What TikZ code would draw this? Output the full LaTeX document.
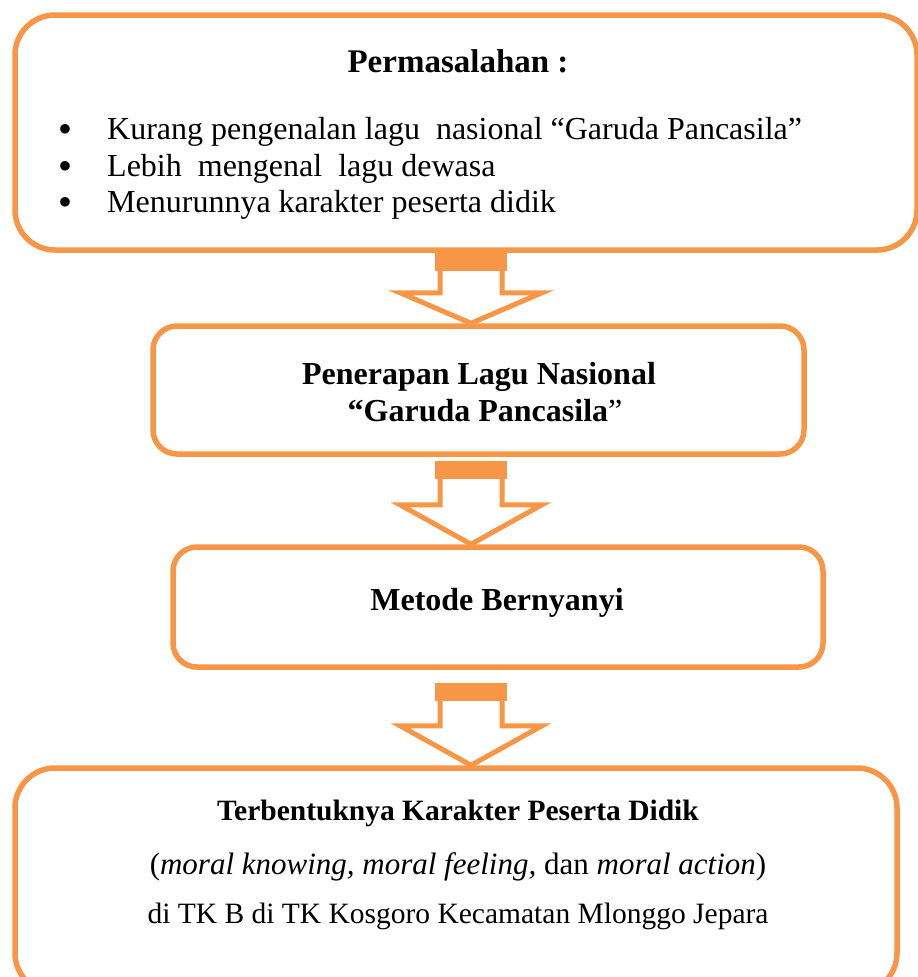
\documentclass[tikz,border=0pt]{standalone}
\usepackage{fontspec}
\setmainfont{Liberation Serif}
\usetikzlibrary{calc}
\definecolor{accent}{HTML}{F79646}

% block arrow between two boxes: from, to, gap below box, shaft length
\newcommand{\blockarrow}[4]{%
  \path (471,0 |- #1.south) ++(0,#3) coordinate (#1-top);
  \fill[accent] ($(#1-top)+(-36,0)$) rectangle ($(#1-top)+(36,18)$);
  \draw[arrowline] ($(#1-top)+(-31,18)$) -- ++(0,#4) -- ++(-40,0)
    -- (471,0 |- #2.north) -- ($(#1-top)+(71,18+#4)$) -- ++(-40,0) -- ++(0,-#4);
}

\begin{document}
\begin{tikzpicture}[x=1pt, y=-1pt,
  box/.style={draw=accent, line width=5.5pt, rounded corners=#1, inner sep=0pt},
  box/.default=40pt,
  arrowline/.style={draw=accent, line width=5pt, line join=miter},
  txt/.style={inner sep=0pt, font=\fontsize{32}{38}\selectfont},
  small/.style={inner sep=0pt, font=\fontsize{29.5}{35}\selectfont}]
\useasboundingbox (0,0) rectangle (918,977);

% Boxes
\node[box, minimum width=902pt, minimum height=235pt] (masalah) at (466,132.5) {};
\node[box=24pt, minimum width=651pt, minimum height=128pt] (penerapan) at (478.5,390) {};
\node[box=24pt, minimum width=650pt, minimum height=120pt] (metode) at (498,607) {};
\node[box, minimum width=882pt, minimum height=225pt] (karakter) at (456,880.5) {};

% Texts
\node[txt, anchor=base, font=\fontsize{33}{38}\selectfont] (judul) at (458,72) {\textbf{Permasalahan :}};
\node[txt, anchor=base west] (b1) at (107,139) {Kurang pengenalan lagu\ \ nasional “Garuda Pancasila”};
\node[txt, anchor=base west] (b2) at (107,176) {Lebih\ \ mengenal\ \ lagu dewasa};
\node[txt, anchor=base west] (b3) at (107,212) {Menurunnya karakter peserta didik};
\foreach \b in {b1,b2,b3}
  \node[txt] at ($(65,0 |- \b.base)+(0,-9)$) {$\bullet$};

\node[txt, anchor=base] (p1) at (479,384) {\textbf{Penerapan Lagu Nasional}};
\node[txt, anchor=base] (p2) at (485,421) {\textbf{“Garuda Pancasila}”};

\node[txt, anchor=base] (m1) at (497,610) {\textbf{Metode Bernyanyi}};

\node[small, anchor=base] (k1) at (458,820) {\textbf{Terbentuknya Karakter Peserta Didik}};
\node[small, anchor=base, font=\fontsize{31}{36}\selectfont] (k2) at (458,874) {(\textit{moral knowing, moral feeling,} dan \textit{moral action})};
\node[small, anchor=base] (k3) at (458,923) {di TK B di TK Kosgoro Kecamatan Mlonggo Jepara};

% Arrows
\blockarrow{masalah}{penerapan}{0}{22}
\blockarrow{penerapan}{metode}{4}{26}
\blockarrow{metode}{karakter}{13}{25}

\end{tikzpicture}
\end{document}
